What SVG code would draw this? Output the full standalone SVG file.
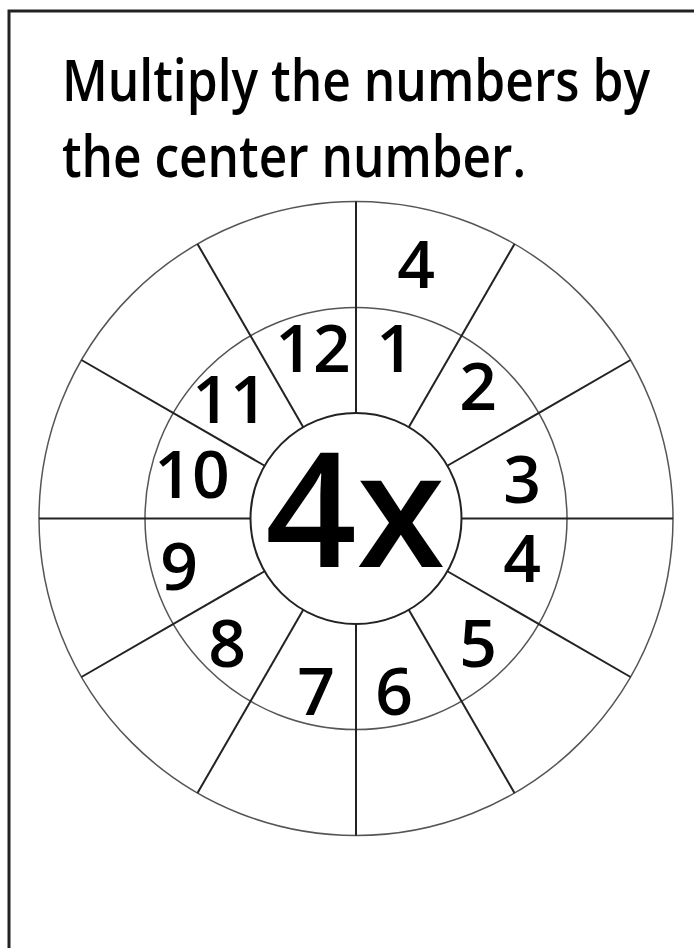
<svg xmlns="http://www.w3.org/2000/svg" width="694" height="948" viewBox="0 0 694 948">
<style>
.ring{fill:none;stroke:#555;stroke-width:1.5}
.inner{fill:none;stroke:#222;stroke-width:2}
.spoke{stroke:#222;stroke-width:2;stroke-linecap:butt}
.num{font-family:"Open Sans","Noto Sans",sans-serif;font-size:66px;font-weight:600;fill:#000;text-anchor:middle}
.title{font-family:"Open Sans","Noto Sans",sans-serif;font-size:58px;font-weight:600;fill:#000}
</style>
<rect width="694" height="948" fill="#fff"/>
<rect x="9" y="11" width="720" height="980" fill="none" stroke="#222" stroke-width="3"/>
<g id="title">
<text class="title" x="62" y="101" textLength="588" lengthAdjust="spacingAndGlyphs">Multiply the numbers by</text>
<text class="title" x="62" y="177" textLength="464" lengthAdjust="spacingAndGlyphs">the center number.</text>
</g>
<g id="outer-ring"><circle class="ring" cx="356" cy="518.5" r="317"/></g>
<g id="middle-ring"><circle class="ring" cx="356" cy="518.5" r="211"/></g>
<g id="connectors">
<line class="spoke" x1="461.5" y1="518.5" x2="673" y2="518.5"/>
<line class="spoke" x1="447.37" y1="465.75" x2="630.53" y2="360"/>
<line class="spoke" x1="408.75" y1="427.13" x2="514.5" y2="243.97"/>
<line class="spoke" x1="356" y1="413" x2="356" y2="201.5"/>
<line class="spoke" x1="303.25" y1="427.13" x2="197.5" y2="243.97"/>
<line class="spoke" x1="264.63" y1="465.75" x2="81.47" y2="360"/>
<line class="spoke" x1="250.5" y1="518.5" x2="39" y2="518.5"/>
<line class="spoke" x1="264.63" y1="571.25" x2="81.47" y2="677"/>
<line class="spoke" x1="303.25" y1="609.87" x2="197.5" y2="793.03"/>
<line class="spoke" x1="356" y1="624" x2="356" y2="835.5"/>
<line class="spoke" x1="408.75" y1="609.87" x2="514.5" y2="793.03"/>
<line class="spoke" x1="447.37" y1="571.25" x2="630.53" y2="677"/>
</g>
<g id="center">
<circle class="inner" cx="356" cy="518.5" r="105.5"/>
<text class="num" x="355" y="567" style="font-size:160px;font-weight:600">4x</text>
</g>
<g id="numbers">
<text id="n12" class="num" x="313" y="372">12</text>
<text id="n11" class="num" x="230" y="423">11</text>
<text id="n10" class="num" x="192" y="498">10</text>
<text id="n1" class="num" x="395" y="372">1</text>
<text id="n2" class="num" x="478" y="410">2</text>
<text id="n3" class="num" x="522" y="503">3</text>
<text id="n4" class="num" x="522" y="582">4</text>
<text id="n5" class="num" x="478" y="667">5</text>
<text id="n6" class="num" x="394" y="715">6</text>
<text id="n7" class="num" x="316" y="715">7</text>
<text id="n8" class="num" x="227" y="667">8</text>
<text id="n9" class="num" x="179" y="590">9</text>
<text id="answer" class="num" x="416" y="288">4</text>
</g>
</svg>
